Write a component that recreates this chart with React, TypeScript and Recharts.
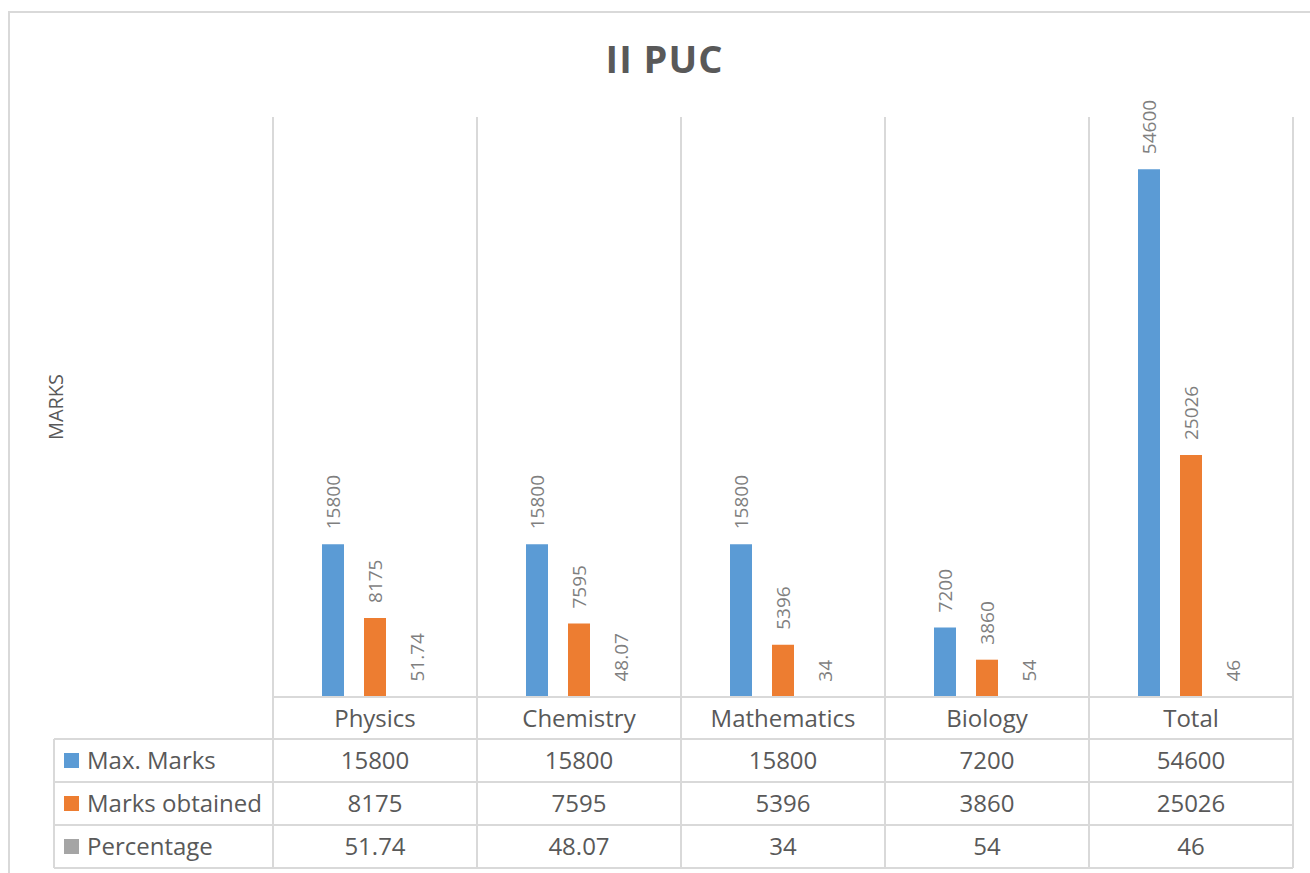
import { BarChart, Bar, XAxis, YAxis, LabelList, Label } from "recharts";

// II PUC marks
const subjects = ["Physics", "Chemistry", "Mathematics", "Biology", "Total"];
const maxMarks = [15800, 15800, 15800, 7200, 54600];
const marksObtained = [8175, 7595, 5396, 3860, 25026];
const percentage = [51.74, 48.07, 34, 54, 46];
const seriesNames = ["Max. Marks", "Marks obtained", "Percentage"];
const seriesColors = ["#5B9BD5", "#ED7D31", "#A5A5A5"];
const yDomain = [0, 60000];

const seriesValues = [maxMarks, marksObtained, percentage];
const seriesKeys = ["max", "obtained", "pct"];

const data = subjects.map((s, i) => ({
  subject: s,
  max: maxMarks[i],
  obtained: marksObtained[i],
  pct: percentage[i],
}));

// layout
const W = 1310;
const H = 873;
const PLOT_LEFT = 273;
const PLOT_RIGHT = 1293;
const PLOT_TOP = 117;
const TABLE_LEFT = 54;
const ROWS = [697, 739, 782, 825, 868];
const BAND = (PLOT_RIGHT - PLOT_LEFT) / subjects.length;
const GRID = "#D9D9D9";
const TEXT = "#595959";

function TableColumn(props: any) {
  const { x, payload } = props;
  const i = subjects.indexOf(payload.value);
  const l = x - BAND / 2;
  const r = x + BAND / 2;
  return (
    <g>
      <line x1={l} x2={l} y1={PLOT_TOP} y2={ROWS[4]} stroke={GRID} strokeWidth={2} />
      <line x1={r} x2={r} y1={PLOT_TOP} y2={ROWS[4]} stroke={GRID} strokeWidth={2} />
      {ROWS.map((y) => (
        <line key={y} x1={l} x2={r} y1={y} y2={y} stroke={GRID} strokeWidth={2} />
      ))}
      <text x={x} y={ROWS[0] + 30} textAnchor="middle" fill={TEXT} fontSize={24}>
        {payload.value}
      </text>
      {seriesValues.map((vals, k) => (
        <text key={k} x={x} y={ROWS[k + 1] + 30} textAnchor="middle" fill={TEXT} fontSize={24}>
          {vals[i]}
        </text>
      ))}
      {i === 0 && (
        <g>
          <line x1={TABLE_LEFT} x2={TABLE_LEFT} y1={ROWS[1]} y2={ROWS[4]} stroke={GRID} strokeWidth={2} />
          {ROWS.slice(1).map((y) => (
            <line key={y} x1={TABLE_LEFT} x2={l} y1={y} y2={y} stroke={GRID} strokeWidth={2} />
          ))}
          {seriesNames.map((name, k) => (
            <g key={name}>
              <rect x={64} y={ROWS[k + 1] + 14} width={15} height={15} fill={seriesColors[k]} />
              <text x={87} y={ROWS[k + 1] + 30} fill={TEXT} fontSize={24}>
                {name}
              </text>
            </g>
          ))}
        </g>
      )}
    </g>
  );
}

function BarValue(props: any) {
  const { x, y, width, value } = props;
  const cx = Number(x) + Number(width) / 2;
  const y0 = Number(y) - 15;
  return (
    <text
      x={cx}
      y={y0}
      transform={`rotate(-90 ${cx} ${y0})`}
      textAnchor="start"
      dominantBaseline="central"
      fill="#7F7F7F"
      fontSize={19}
    >
      {value}
    </text>
  );
}

export default function App() {
  return (
    <div
      style={{
        position: "absolute",
        left: 0,
        top: 0,
        width: W,
        height: H,
        overflow: "hidden",
        background: "#fff",
        fontFamily: "'Open Sans', sans-serif",
      }}
    >
      <div
        style={{
          position: "absolute",
          left: 8,
          top: 11,
          width: 1400,
          height: 1000,
          border: `2px solid ${GRID}`,
        }}
      />
      <div
        style={{
          position: "absolute",
          left: 9,
          width: 1311,
          top: 32,
          lineHeight: "52px",
          textAlign: "center",
          fontSize: 38,
          fontWeight: 700,
          letterSpacing: 1,
          color: TEXT,
        }}
      >
        II PUC
      </div>
      <div style={{ position: "absolute", left: 0, top: 0 }}>
        <BarChart
          width={W}
          height={H}
          data={data}
          margin={{ top: PLOT_TOP, right: W - PLOT_RIGHT, bottom: 0, left: 0 }}
          barCategoryGap={49}
          barGap={20}
        >
          <XAxis
            dataKey="subject"
            height={H - ROWS[0]}
            tick={TableColumn}
            axisLine={false}
            tickLine={false}
            interval={0}
          />
          <YAxis
            domain={yDomain}
            width={PLOT_LEFT}
            tick={false}
            axisLine={false}
            tickLine={false}
          >
            <Label
              value="MARKS"
              angle={-90}
              position="insideLeft"
              offset={56}
              fill={TEXT}
              fontSize={20}
              style={{ textAnchor: "middle" }}
            />
          </YAxis>
          {seriesKeys.map((key, k) => (
            <Bar key={key} dataKey={key} name={seriesNames[k]} fill={seriesColors[k]} isAnimationActive={false}>
              <LabelList dataKey={key} content={BarValue} />
            </Bar>
          ))}
        </BarChart>
      </div>
    </div>
  );
}
